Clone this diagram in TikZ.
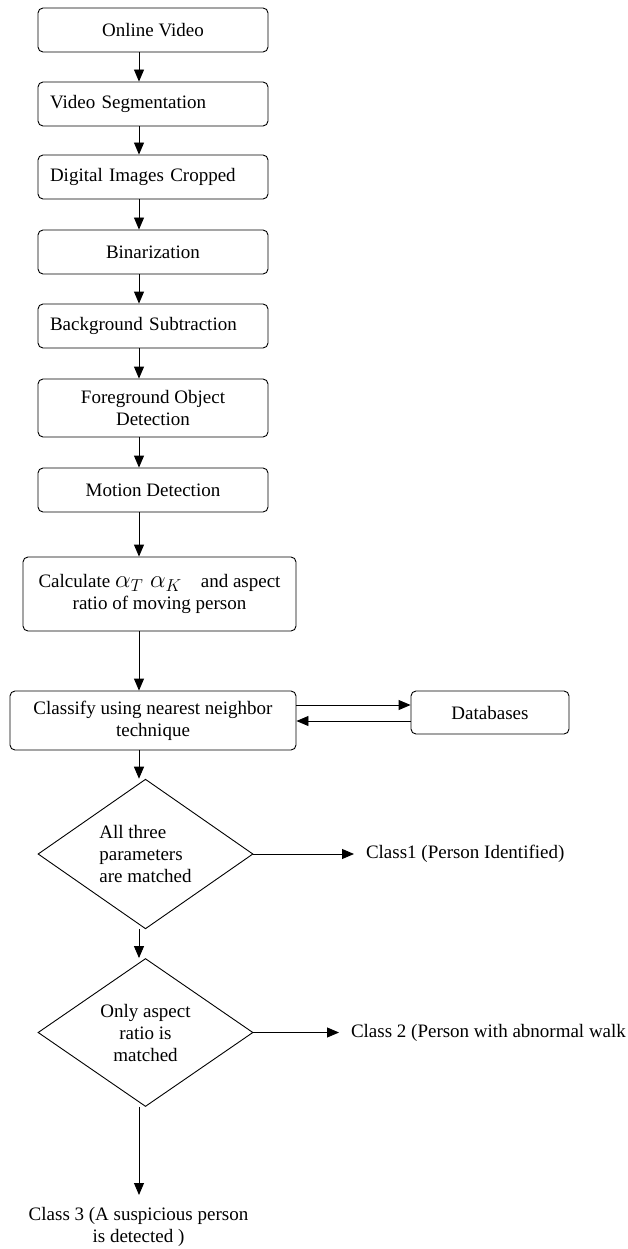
\documentclass[tikz,border=0pt]{standalone}
\usepackage{fontspec}
\setmainfont{Liberation Serif}
\usetikzlibrary{shapes}
\usetikzlibrary{arrows.meta}
\tikzset{
	flownode/.style = {
		align=center,
		inner sep=0pt,
		text centered,
		font=\fontsize{19}{22}\selectfont,
		line width=0.9pt,
		draw=black
	},
	node_box/.style = {
		flownode,
		rectangle,
		rounded corners=5pt,
		minimum width=230pt,
		minimum height=44pt
	},
	node_boxl/.style = {
		node_box,
		align=left,
		text width=206pt
	},
	node_dec/.style = {
		flownode,
		diamond,
		minimum width=215pt,
		minimum height=148pt
	},
	node_res/.style = {
		flownode,
		draw=none,
		outer sep=12pt
	},
}

\begin{document}
\begin{tikzpicture}[x=1pt, y=-1pt, ->, >={Triangle[width=10pt,length=12pt]}, line width=0.9pt]
\useasboundingbox (0,0) rectangle (627,1249);
\coordinate (spine) at (139,0);
\node [node_box] (video) at (153,30) {Online Video};
\node [node_boxl] (segment) at (153,104) {Video Segmentation};
\node [node_boxl] (crop) at (153,177) {Digital Images Cropped};
\node [node_box] (binary) at (153,252) {Binarization};
\node [node_boxl] (bgsub) at (153,326) {Background Subtraction};
\node [node_box, minimum height=58pt] (fgobj) at (153,408) {Foreground Object\\Detection};
\node [node_box] (motion) at (153,490) {Motion Detection};
\node [node_box, minimum width=273pt, minimum height=74pt] (calc) at (159.5,594)
	{Calculate {\fontsize{26}{26}\selectfont$\alpha_{T}\;\alpha_{K}$}\quad and aspect\\ratio of moving person};
\node [node_box, minimum width=286pt, minimum height=59pt] (classify) at (153,720.5)
	{Classify using nearest neighbor\\technique};
\node [node_box, minimum width=158pt, minimum height=43pt] (db) at (490,712.5) {Databases};
\node [node_dec, align=left] (allthree) at (145.5,854) {All three\\parameters\\are matched};
\node [node_dec] (aspect) at (145.5,1032.5) {Only aspect\\ratio is\\matched};
\node [node_res, anchor=west] (class1) at (354,854) {Class1 (Person Identified)};
\node [node_res, anchor=west] (class2) at (339,1032.5) {Class 2 (Person with abnormal walk};
\node [node_res, anchor=north] (class3) at (138.5,1195) {Class 3 (A suspicious person\\is detected )};

\draw (video.south -| spine) -- (segment.north -| spine);
\draw (segment.south -| spine) -- (crop.north -| spine);
\draw (crop.south -| spine) -- (binary.north -| spine);
\draw (binary.south -| spine) -- (bgsub.north -| spine);
\draw (bgsub.south -| spine) -- (fgobj.north -| spine);
\draw (fgobj.south -| spine) -- (motion.north -| spine);
\draw (motion.south -| spine) -- (calc.north -| spine);
\draw (calc.south -| spine) -- (classify.north -| spine);
\draw ([yshift=15.5pt]classify.east) -- ([yshift=15.5pt]classify.east -| db.west);
\draw ([yshift=-8.5pt]db.west) -- ([yshift=-8.5pt]db.west -| classify.east);
\draw (classify.south -| spine) -- (allthree.north -| spine);
\draw (allthree.east) -- (class1.west);
\draw (allthree.south -| spine) -- (aspect.north -| spine);
\draw (aspect.east) -- (class2.west);
\draw (aspect.south -| spine) -- (class3.north -| spine);
\end{tikzpicture}
\end{document}
